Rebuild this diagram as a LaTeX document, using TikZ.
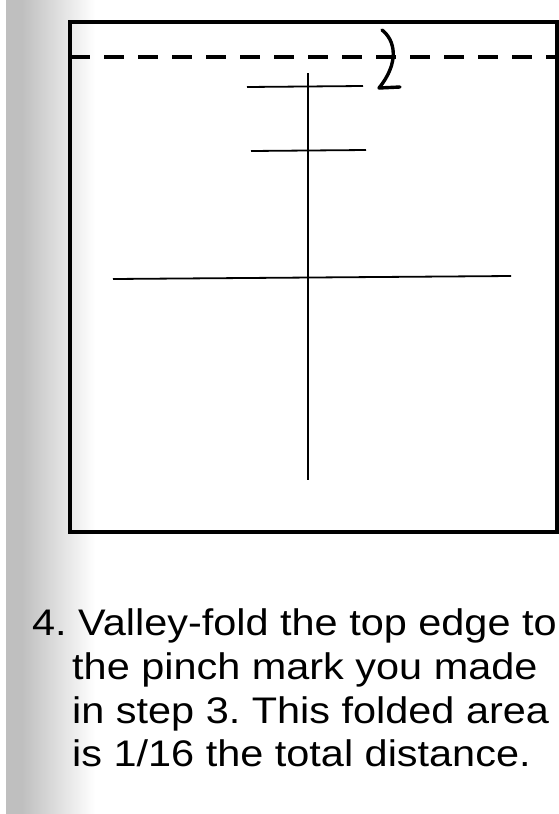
\documentclass[tikz,border=0pt]{standalone}
\usepackage{fontspec}
\setmainfont[FakeStretch=1.12]{Liberation Sans}
\frenchspacing
\begin{document}
\begin{tikzpicture}[x=1pt,y=-1pt,
  frame/.style={line width=3.6pt},
  fold/.style={line width=3.4pt, dash pattern=on 20pt off 14pt},
  crease/.style={line width=1.8pt},
  arrowline/.style={line width=3.4pt, line cap=round, line join=round},
  caption/.style={anchor=base west, inner sep=0pt, font=\fontsize{37}{44}\selectfont}]
\useasboundingbox (0,0) rectangle (559,814);
\fill[white] (0,0) rectangle (559,814);
\fill[black!25] (6,0) rectangle (22,814);
\shade[left color=black!25, right color=white] (22,0) rectangle (95,814);
% paper square
\draw[frame] (70,22) -- (557,22) -- (557,532) -- (70,532) -- cycle;
% valley fold line
\coordinate (fl) at (70,57);
\coordinate (fr) at (559,57);
\draw[fold] (fl) -- (fr);
% creases
\coordinate (vt) at (308,73);
\coordinate (vb) at (308,480);
\draw[crease] (vt) -- (vb);
\coordinate (a1) at (247,87); \coordinate (a2) at (363,86);
\draw[crease] (a1) -- (a2);
\coordinate (b1) at (251,151); \coordinate (b2) at (366,150);
\draw[crease] (b1) -- (b2);
\coordinate (c1) at (113,279); \coordinate (c2) at (511,276);
\draw[crease] (c1) -- (c2);
% fold arrow
\coordinate (as) at (382,30);
\coordinate (tip) at (379,88);
\coordinate (barb) at (400,87);
\draw[arrowline] (as) .. controls (395,40) and (400,62) .. (tip);
\draw[arrowline] (tip) -- (barb);
% caption
\node[caption] (l1) at (32,635) {4. Valley-fold the top edge to};
\node[caption] (l2) at (72,679) {the pinch mark you made};
\node[caption] (l3) at (72,723) {in step 3. This folded area};
\node[caption] (l4) at (72,766) {is 1/16 the total distance.};
\end{tikzpicture}
\end{document}
